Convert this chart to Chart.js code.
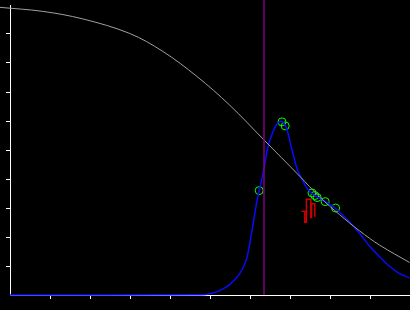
<!DOCTYPE html>
<html>
<head>
<meta charset="utf-8">
<script src="https://cdn.jsdelivr.net/npm/chart.js@4"></script>
<style>
  body { margin: 0; background: #000; }
  canvas { display: block; }
</style>
</head>
<body>
<canvas id="chart" width="410" height="310"></canvas>
<script>
const grayX = [-0.26, 0.82, 1.82, 2.99, 3.82, 4.67, 5.49, 6.34, 7.24, 7.74, 8.24, 8.74, 9.24, 9.99];
const grayY = [0.992, 0.978, 0.952, 0.902, 0.840, 0.754, 0.655, 0.536, 0.410, 0.338, 0.277, 0.221, 0.172, 0.112];

const blueX = [0, 4.79, 4.99, 5.24, 5.49, 5.74, 5.91, 6.04, 6.18, 6.33, 6.45, 6.54, 6.66, 6.79, 6.91, 7.03, 7.16, 7.24, 7.49, 7.87, 8.12, 8.49, 8.74, 8.99, 9.24, 9.49, 9.74, 9.99];
const blueY = [0, 0.001, 0.004, 0.015, 0.036, 0.073, 0.122, 0.215, 0.329, 0.421, 0.512, 0.55, 0.587, 0.599, 0.576, 0.512, 0.443, 0.415, 0.357, 0.323, 0.300, 0.252, 0.212, 0.168, 0.132, 0.099, 0.074, 0.059];

const markerX = [6.23, 6.80, 6.88, 7.55, 7.62, 7.68, 7.88, 8.14];
const markerY = [0.360, 0.597, 0.583, 0.352, 0.343, 0.336, 0.322, 0.300];

const redX = [7.29, 7.37, 7.37, 7.41, 7.41, 7.52, 7.52, 7.54, 7.54, 7.62, 7.62];
const redY = [0.289, 0.289, 0.251, 0.251, 0.330, 0.330, 0.267, 0.267, 0.315, 0.315, 0.270];

const cutX = 6.35;

// maak punten van twee arrays
function toPoints(xs, ys) {
    return xs.map((x, i) => ({ x: x, y: ys[i] }));
}

// tick streepjes zonder de uiteinden
function dropEnds(scale) {
    scale.ticks = scale.ticks.filter(t => t.value > scale.min + 1e-9 && t.value < scale.max - 1e-9);
}

const axis = {
    grid: { drawOnChartArea: false, drawTicks: true, tickLength: 4, tickColor: '#ffffff', tickWidth: 1 },
    border: { color: '#ffffff', width: 1 },
    ticks: { display: false }
};

new Chart(document.getElementById('chart'), {
    type: 'scatter',
    data: {
        datasets: [
            {
                data: [{ x: cutX, y: 0 }, { x: cutX, y: 1.02 }],
                showLine: true, borderColor: '#800080', borderWidth: 1.5, pointRadius: 0, clip: false
            },
            {
                data: toPoints(grayX, grayY),
                showLine: true, borderColor: '#a0a0a0', borderWidth: 1, pointRadius: 0,
                tension: 0.35, clip: false
            },
            {
                data: toPoints(blueX, blueY),
                showLine: true, borderColor: '#0a0aff', borderWidth: 1.5, pointRadius: 0,
                tension: 0.3, clip: false
            },
            {
                data: toPoints(redX, redY),
                showLine: true, borderColor: '#cc0000', borderWidth: 1.5, pointRadius: 0, clip: false
            },
            {
                data: toPoints(markerX, markerY),
                showLine: false, pointRadius: 4, pointBorderWidth: 1,
                pointBorderColor: '#00ff00', pointBackgroundColor: 'rgba(0,0,0,0)', clip: false
            }
        ]
    },
    options: {
        responsive: false,
        animation: false,
        devicePixelRatio: 1,
        layout: { autoPadding: false, padding: { left: 6, right: 0, top: 5, bottom: 11 } },
        plugins: { legend: { display: false }, tooltip: { enabled: false } },
        scales: {
            x: Object.assign({ type: 'linear', min: 0, max: 10, afterBuildTicks: dropEnds }, axis, { ticks: { display: false, stepSize: 1 } }),
            y: Object.assign({ type: 'linear', min: 0, max: 1, afterBuildTicks: dropEnds }, axis, { ticks: { display: false, stepSize: 0.1 } })
        }
    }
});
</script>
</body>
</html>
